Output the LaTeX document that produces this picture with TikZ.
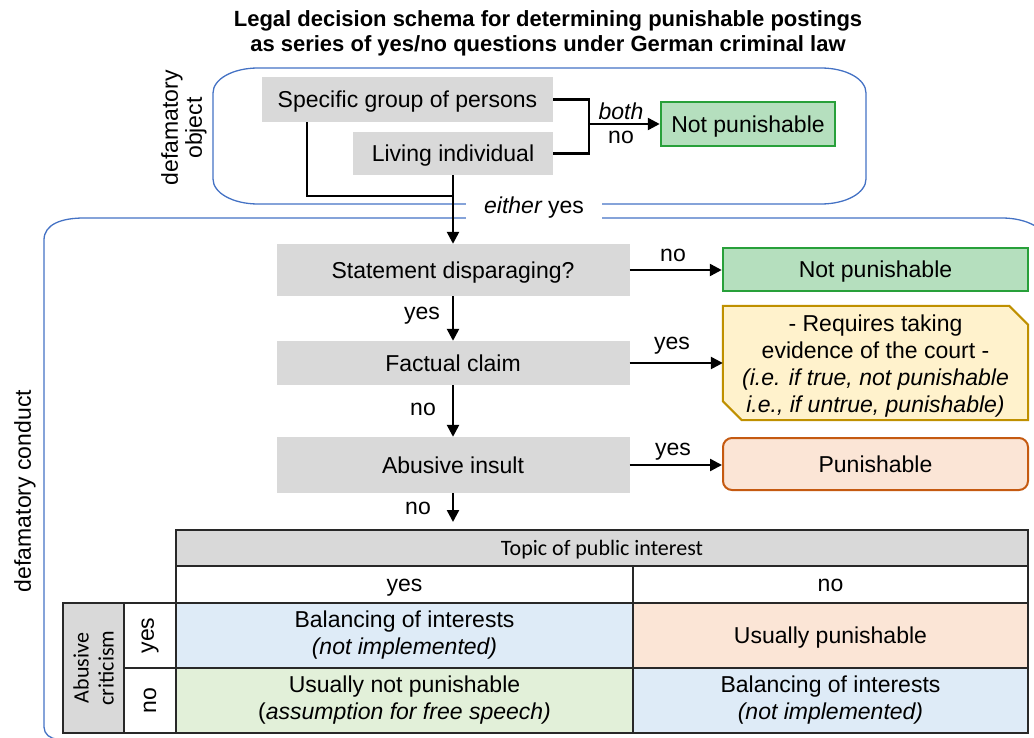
\documentclass[tikz,border=0pt]{standalone}
\usepackage{fontspec}
\setmainfont{Liberation Sans}
\newfontfamily\calfont{Carlito}
\usetikzlibrary{arrows.meta,backgrounds,calc}
\definecolor{gboxc}{RGB}{217,217,217}
\definecolor{gfill}{RGB}{181,223,190}
\definecolor{gline}{RGB}{40,160,58}
\definecolor{yfill}{RGB}{255,242,204}
\definecolor{yline}{RGB}{191,144,0}
\definecolor{ofill}{RGB}{251,229,214}
\definecolor{oline}{RGB}{197,90,17}
\definecolor{bfill}{RGB}{222,235,247}
\definecolor{lgfill}{RGB}{226,240,217}
\definecolor{bline}{RGB}{68,114,196}
\definecolor{tline}{RGB}{40,40,40}
\newcommand\myfs{\fontsize{23pt}{27pt}\selectfont}
\newcommand\mytitlefs{\fontsize{22pt}{25pt}\selectfont\bfseries}
\newcommand\mycalfs{\calfont\fontsize{22pt}{25pt}\selectfont}
\begin{document}
\begin{tikzpicture}[x=1pt,y=-1pt,
  every node/.style={font=\myfs, inner sep=0pt, text=black},
  oneline/.style={text height=16.5pt, text depth=0pt},
  gbox/.style={fill=gboxc, oneline},
  conn/.style={draw=black, line width=2.5pt},
  arr/.style={conn, -{Triangle[length=12pt,width=12pt]}},
  endbox/.style={minimum width=305pt},
  tcell/.style={draw=tline, line width=1.5pt},
  bracket/.style={draw=bline, line width=1.3pt}
]
\useasboundingbox (0,0) rectangle (1034,738);
\clip (0,0) rectangle (1034,738);

% title
\node[align=center, font=\mytitlefs] (title) at (548,33.5)
  {Legal decision schema for determining punishable postings\\as series of yes/no questions under German criminal law};

% blue brackets
\draw[bracket] (466,204) -- (258,204) .. controls (233,204) and (213,193) .. (213,179)
  -- (213,93) .. controls (213,79) and (233,68) .. (258,68)
  -- (821,68) .. controls (846,68) and (866,79) .. (866,93)
  -- (866,179) .. controls (866,193) and (846,204) .. (821,204) -- (602,204);
\draw[bracket] (466,218) -- (84,218) .. controls (62,218) and (44,224) .. (44,240)
  -- (44,727) .. controls (44,734) and (50,739) .. (58,739) -- (1040,739);
\draw[bracket] (602,218) -- (1002,218) .. controls (1027,218) and (1047,229) .. (1047,243) -- (1047,739);

% defamatory object group
\node[rotate=90, align=center, font=\fontsize{23pt}{24pt}\selectfont] (dobj) at (184,128) {defamatory\\object};
\node[gbox, minimum width=291pt, minimum height=45pt] (sg) at (407.5,99.5) {Specific group of persons};
\node[gbox, minimum width=200pt, minimum height=43pt] (li) at (453,153.5) {Living individual};
\node[fill=gfill, draw=gline, line width=2.5pt, oneline, minimum width=174pt, minimum height=44pt] (np1) at (748,124) {Not punishable};
\path (np1.west) ++(-71,0) coordinate (jb);
\coordinate (jy) at (453,196);
\draw[conn] (sg.east) -| (jb);
\draw[conn] (li.east) -| (jb);
\draw[arr] (jb) -- (np1.west);
\node (lb) at (621,111) {\itshape both};
\node (lnn) at (621,137) {no};
\draw[conn] ([xshift=45pt]sg.south west) |- (jy);

% either yes label
\node[fill=white, inner xsep=18pt, inner ysep=5pt, anchor=base] (ey) at (534,214) {\itshape either\upshape\ yes};

% main column
\node[gbox, minimum width=353pt, minimum height=52pt] (sd) at (453,270) {Statement disparaging?};
\node[gbox, minimum width=353pt, minimum height=44pt] (fc) at (453,363) {Factual claim};
\node[gbox, minimum width=353pt, minimum height=56pt] (ai) at (453,465) {Abusive insult};
\draw[arr] (li.south) -- (sd.north);
\draw[arr] (sd.south) -- (fc.north);
\draw[arr] (fc.south) -- (ai.north);
\coordinate (tend) at (453,522);
\draw[arr] (ai.south) -- (tend);
\node (l1) at (422,316) {yes};
\node (l2) at (423,409) {no};
\node (l3) at (418,508) {no};

% right column
\node[endbox, oneline, fill=gfill, draw=gline, line width=2.5pt, minimum height=43pt] (np2) at (875.5,269.5) {Not punishable};
\node[endbox, align=center, minimum height=114pt] (ev) at (875.5,363)
  {\rule{0pt}{23pt}- Requires taking\\evidence of the court -\\\itshape (i.e. if true, not punishable\\\itshape i.e., if untrue, punishable)};
\begin{scope}[on background layer]
\draw[draw=yline, fill=yfill, line width=2pt] (ev.north west) -- ([xshift=-19pt]ev.north east)
  -- ([yshift=-19pt]ev.north east) -- (ev.south east) -- ([xshift=19pt]ev.south west)
  -- ([yshift=19pt]ev.south west) -- cycle;
\end{scope}
\node[endbox, oneline, fill=ofill, draw=oline, line width=2pt, rounded corners=9pt, minimum height=52pt] (pu) at (875.5,464) {Punishable};
\draw[arr] (sd.east) -- (sd.east -| np2.west);
\draw[arr] (fc.east) -- (fc.east -| ev.west);
\draw[arr] (ai.east) -- (ai.east -| pu.west);
\node (l4) at (673,255) {no};
\node (l5) at (672,346) {yes};
\node (l6) at (673,452) {yes};

% defamatory conduct
\node[rotate=90] (dcon) at (25,491) {defamatory conduct};

% table
\node[tcell, fill=gboxc, minimum width=852pt, minimum height=36pt, font=\mycalfs, text height=14pt, text depth=0pt] (th) at (602,548) {Topic of public interest};
\node[tcell, minimum width=457pt, minimum height=37pt, text height=13pt, text depth=0pt] (tyes) at (404.5,584.5) {yes};
\node[tcell, minimum width=395pt, minimum height=37pt, text height=13pt, text depth=0pt] (tno) at (830.5,584.5) {no};
\node[tcell, align=center, fill=bfill, minimum width=457pt, minimum height=65pt] (c11) at (404.5,635.5)
  {Balancing of interests\\\itshape (not implemented)};
\node[tcell, oneline, fill=ofill, minimum width=395pt, minimum height=65pt] (c12) at (830.5,635.5)
  {Usually punishable};
\node[tcell, align=center, fill=lgfill, minimum width=457pt, minimum height=65pt] (c21) at (404.5,700.5)
  {Usually not punishable\\(\textit{assumption for free speech)}};
\node[tcell, align=center, fill=bfill, minimum width=395pt, minimum height=65pt] (c22) at (830.5,700.5)
  {Balancing of interests\\\itshape (not implemented)};
\node[tcell, align=center, fill=gboxc, rotate=90, minimum width=130pt, minimum height=61pt, font=\mycalfs] (rab) at (93.5,668)
  {Abusive\\criticism};
\node[tcell, rotate=90, minimum width=65pt, minimum height=52pt] (ryes) at (150,635.5) {yes};
\node[tcell, rotate=90, minimum width=65pt, minimum height=52pt] (rno) at (150,700.5) {no};
\end{tikzpicture}
\end{document}
